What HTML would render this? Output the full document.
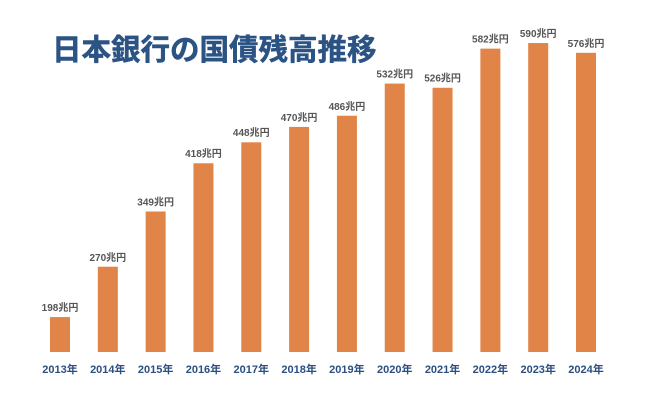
<!DOCTYPE html>
<html><head><meta charset="utf-8"><style>
body{margin:0;background:#fff;}
svg text{font-family:"Liberation Sans","Noto Sans CJK JP",sans-serif;}
</style></head><body>
<svg width="647" height="400" xmlns="http://www.w3.org/2000/svg">
<text x="52" y="60" font-size="29.5" font-weight="bold" fill="#2b5384" stroke="#2b5384" stroke-width="0.5">日本銀行の国債残高推移</text>
<g fill="#e08447">
<rect x="50" y="317.05" width="20" height="34.95"/>
<rect x="97.82" y="266.72" width="20" height="85.28"/>
<rect x="145.64" y="211.5" width="20" height="140.5"/>
<rect x="193.46" y="163.27" width="20" height="188.73"/>
<rect x="241.28" y="142.3" width="20" height="209.7"/>
<rect x="289.1" y="126.92" width="20" height="225.08"/>
<rect x="336.92" y="115.74" width="20" height="236.26"/>
<rect x="384.74" y="83.58" width="20" height="268.42"/>
<rect x="432.56" y="87.78" width="20" height="264.22"/>
<rect x="480.38" y="48.63" width="20" height="303.37"/>
<rect x="528.2" y="43.04" width="20" height="308.96"/>
<rect x="576.02" y="52.83" width="20" height="299.17"/>
</g>
<g font-size="10" font-weight="bold" text-anchor="middle" fill="#555">
<text x="60" y="311">198兆円</text>
<text x="107.82" y="261">270兆円</text>
<text x="155.64" y="205.5">349兆円</text>
<text x="203.46" y="157">418兆円</text>
<text x="251.28" y="136">448兆円</text>
<text x="299.1" y="121">470兆円</text>
<text x="346.92" y="110">486兆円</text>
<text x="394.74" y="77.5">532兆円</text>
<text x="442.56" y="81.5">526兆円</text>
<text x="490.38" y="42.5">582兆円</text>
<text x="538.2" y="37">590兆円</text>
<text x="586.02" y="47">576兆円</text>
</g>
<g font-size="11" font-weight="bold" text-anchor="middle" fill="#2b4f82">
<text x="60" y="373">2013年</text>
<text x="107.82" y="373">2014年</text>
<text x="155.64" y="373">2015年</text>
<text x="203.46" y="373">2016年</text>
<text x="251.28" y="373">2017年</text>
<text x="299.1" y="373">2018年</text>
<text x="346.92" y="373">2019年</text>
<text x="394.74" y="373">2020年</text>
<text x="442.56" y="373">2021年</text>
<text x="490.38" y="373">2022年</text>
<text x="538.2" y="373">2023年</text>
<text x="586.02" y="373">2024年</text>
</g>
</svg>
</body></html>
